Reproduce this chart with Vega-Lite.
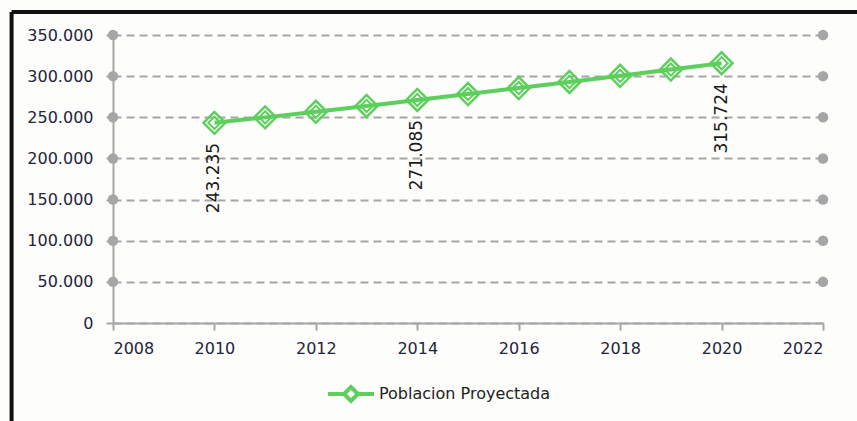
{
  "$schema": "https://vega.github.io/schema/vega-lite/v6.json",
  "width": 710,
  "height": 288,
  "autosize": {"type": "none"},
  "padding": {"left": 113, "top": 35, "right": 34, "bottom": 98},
  "background": "#fdfdfb",
  "datasets": {
    "pob": [
      {"anio": 2010, "poblacion": 243235, "serie": "Poblacion Proyectada"},
      {"anio": 2011, "poblacion": 249900, "serie": "Poblacion Proyectada"},
      {"anio": 2012, "poblacion": 256700, "serie": "Poblacion Proyectada"},
      {"anio": 2013, "poblacion": 263800, "serie": "Poblacion Proyectada"},
      {"anio": 2014, "poblacion": 271085, "serie": "Poblacion Proyectada"},
      {"anio": 2015, "poblacion": 278200, "serie": "Poblacion Proyectada"},
      {"anio": 2016, "poblacion": 285500, "serie": "Poblacion Proyectada"},
      {"anio": 2017, "poblacion": 292900, "serie": "Poblacion Proyectada"},
      {"anio": 2018, "poblacion": 300400, "serie": "Poblacion Proyectada"},
      {"anio": 2019, "poblacion": 308000, "serie": "Poblacion Proyectada"},
      {"anio": 2020, "poblacion": 315724, "serie": "Poblacion Proyectada"}
    ],
    "puntos": [
      {"anio": 2008, "valor": 50000}, {"anio": 2008, "valor": 100000}, {"anio": 2008, "valor": 150000},
      {"anio": 2008, "valor": 200000}, {"anio": 2008, "valor": 250000}, {"anio": 2008, "valor": 300000},
      {"anio": 2008, "valor": 350000},
      {"anio": 2022, "valor": 50000}, {"anio": 2022, "valor": 100000}, {"anio": 2022, "valor": 150000},
      {"anio": 2022, "valor": 200000}, {"anio": 2022, "valor": 250000}, {"anio": 2022, "valor": 300000},
      {"anio": 2022, "valor": 350000}
    ]
  },
  "layer": [
    {
      "data": {"name": "puntos"},
      "mark": {"type": "point", "shape": "circle", "filled": true, "size": 110, "color": "#a6a6a6", "opacity": 1},
      "encoding": {
        "x": {"field": "anio", "type": "quantitative", "scale": {"domain": [2008, 2022]},
          "axis": {"values": [2008, 2010, 2012, 2014, 2016, 2018, 2020, 2022], "format": "d", "title": null}},
        "y": {"field": "valor", "type": "quantitative", "scale": {"domain": [0, 350000]},
          "axis": {"values": [0, 50000, 100000, 150000, 200000, 250000, 300000, 350000], "format": ",d", "title": null}}
      }
    },
    {
      "data": {"name": "pob"},
      "mark": {"type": "line", "strokeWidth": 4},
      "encoding": {
        "x": {"field": "anio", "type": "quantitative"},
        "y": {"field": "poblacion", "type": "quantitative"},
        "color": {"field": "serie", "type": "nominal", "scale": {"range": ["#5ccf5c"]},
          "legend": {"title": null, "orient": "none", "legendX": 213, "legendY": 334}}
      }
    },
    {
      "data": {"name": "pob"},
      "mark": {"type": "point", "shape": "diamond", "filled": false, "size": 480, "strokeWidth": 2.5, "opacity": 1},
      "encoding": {
        "x": {"field": "anio", "type": "quantitative"},
        "y": {"field": "poblacion", "type": "quantitative"},
        "color": {"field": "serie", "type": "nominal"}
      }
    },
    {
      "data": {"name": "pob"},
      "mark": {"type": "point", "shape": "diamond", "filled": false, "size": 150, "strokeWidth": 2, "opacity": 1},
      "encoding": {
        "x": {"field": "anio", "type": "quantitative"},
        "y": {"field": "poblacion", "type": "quantitative"},
        "color": {"field": "serie", "type": "nominal"}
      }
    },
    {
      "data": {"name": "pob"},
      "transform": [{"filter": "datum.anio == 2010 || datum.anio == 2014 || datum.anio == 2020"}],
      "mark": {"type": "text", "angle": 270, "align": "right", "baseline": "middle", "dx": -20, "font": "DejaVu Sans", "fontSize": 17, "color": "#1a1a1a"},
      "encoding": {
        "x": {"field": "anio", "type": "quantitative"},
        "y": {"field": "poblacion", "type": "quantitative"},
        "text": {"field": "poblacion", "type": "quantitative", "format": ",d"}
      }
    },
    {
      "data": {"values": [{}]},
      "mark": {"type": "rule", "color": "#111111", "strokeWidth": 4, "clip": false},
      "encoding": {
        "x": {"datum": 2006, "type": "quantitative"},
        "y": {"datum": -140000, "type": "quantitative"},
        "y2": {"datum": 378000}
      }
    },
    {
      "data": {"values": [{}]},
      "mark": {"type": "rule", "color": "#111111", "strokeWidth": 4, "clip": false},
      "encoding": {
        "x": {"datum": 2006, "type": "quantitative"},
        "x2": {"datum": 2030},
        "y": {"datum": 378000, "type": "quantitative"}
      }
    }
  ],
  "config": {
    "locale": {"number": {"decimal": ",", "thousands": ".", "grouping": [3], "currency": ["$", ""]}},
    "view": {"stroke": null},
    "axis": {
      "labelFont": "DejaVu Sans",
      "labelFontSize": 16,
      "labelColor": "#24243a",
      "domainColor": "#a6a6a6",
      "domainWidth": 2,
      "tickColor": "#a6a6a6",
      "tickWidth": 2,
      "tickSize": 7
    },
    "axisX": {"grid": false, "labelPadding": 10},
    "axisY": {"grid": true, "gridColor": "#a6a6a6", "gridWidth": 2, "gridDash": [8, 5], "labelPadding": 13},
    "legend": {
      "padding": 0,
      "labelFont": "DejaVu Sans",
      "labelFontSize": 16,
      "labelColor": "#222222",
      "labelOffset": 3,
      "labelLimit": 400,
      "symbolType": "M-1,0L-0.3,0M0.3,0L1,0M-0.3,0L0,-0.3L0.3,0L0,0.3Z",
      "symbolSize": 2116,
      "symbolStrokeWidth": 4,
      "symbolFillColor": "transparent"
    }
  }
}
